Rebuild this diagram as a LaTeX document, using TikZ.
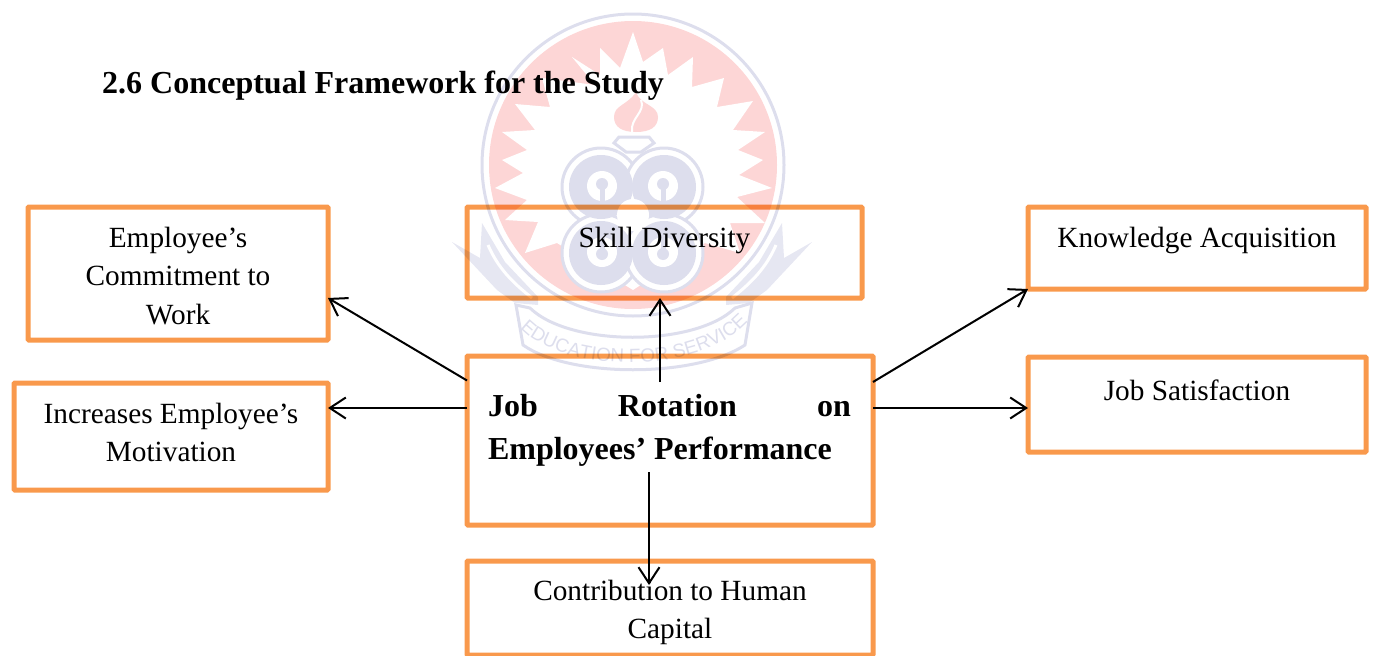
\documentclass[tikz,border=0pt]{standalone}
\usepackage{fontspec}
\setmainfont{Liberation Serif}
\newfontfamily\wmfont{Liberation Sans}
\usetikzlibrary{arrows.meta,decorations.text,calc}
\definecolor{boxorange}{HTML}{F9994C}
\definecolor{wmpink}{HTML}{FDD6D6}
\definecolor{wmblue}{HTML}{DDDEED}
\definecolor{wmpale}{HTML}{E6E7F2}
\newcommand{\boxtext}[4]{\parbox[c][#2pt][t]{#1pt}{\centering\vspace*{#3pt}\fontsize{29.3}{38.5}\selectfont #4\par}}
\tikzset{
  fwbox/.style={draw=boxorange,line width=5pt,rounded corners=1pt,inner sep=0pt,outer sep=0pt,blend mode=multiply,text=black},
  link/.style={draw=black,line width=2pt,-{Straight Barb[length=16pt,width=21pt,line width=2pt]}},
  wmline/.style={draw=wmblue,line width=3pt},
  wmfill/.style={fill=wmblue,draw=none}
}
\begin{document}
\begin{tikzpicture}[x=1pt,y=-1pt]
\useasboundingbox (0,0) rectangle (1374,656);
\clip (0,0) rectangle (1374,656);
% watermark: crest
\fill[wmpink] (633,165) circle[radius=144];
\fill[white] (633,32) -- (643,62) -- (663,48) -- (668,75) -- (693,57) -- (692,87) -- (724,78) -- (717,107) -- (753,101) -- (733,130) -- (765,132) -- (738,150) -- (763,160) -- (739,175) -- (772,188) -- (737,197) -- (765,223) -- (730,223) -- (740,253) -- (705,243) -- (633,290) -- (557,243) -- (525,253) -- (538,222) -- (505,220) -- (527,200) -- (495,188) -- (523,173) -- (502,160) -- (527,150) -- (502,132) -- (535,130) -- (515,104) -- (550,107) -- (542,78) -- (595,85) -- (572,57) -- (600,75) -- (600,48) -- (620,68) -- cycle;
\draw[wmline] (633,165) circle[radius=151];
% flame
\fill[wmpink] (636,92) .. controls (628,105) and (614,105) .. (614,117) .. controls (614,127) and (622,132) .. (636,132) .. controls (650,132) and (658,127) .. (658,117) .. controls (658,105) and (640,105) .. (636,92) -- cycle;
\draw[white,line width=2pt] (641,100) .. controls (646,112) and (630,118) .. (632,132);
% flask
\draw[wmline,fill=white] (614,143) -- (619,137) -- (649,137) -- (654,143) -- (641,152) -- (626,152) -- cycle;
\foreach \cx/\cy in {601/187,664/187,601/253,664/253}{
  \draw[wmline,fill=white] (\cx,\cy) circle[radius=39];
}
\foreach \cx/\cy in {601/187,664/187,601/253,664/253}{
  \fill[wmblue] (\cx,\cy) circle[radius=32];
}
\foreach \cx in {602,663}{
  \fill[white] (\cx,186) circle[radius=15];
  \fill[white] (\cx,252) circle[radius=15];
  \fill[wmblue] (\cx,184) circle[radius=6];
  \fill[wmblue] (\cx-2.5,184) rectangle (\cx+2.5,206);
  \fill[wmblue] (\cx,254) circle[radius=6];
  \fill[wmblue] (\cx-2.5,232) rectangle (\cx+2.5,254);
}
\fill[white] (633,215) circle[radius=16];
% ribbon
\fill[wmpale] (452,242) -- (480,258) -- (482,223) -- (505,262) -- (538,297) -- (538,305) -- (515,303) -- (497,290) -- cycle;
\fill[wmpale] (812,242) -- (784,258) -- (782,223) -- (759,262) -- (726,297) -- (726,305) -- (749,303) -- (767,290) -- cycle;
\draw[white,line width=3pt] (488,245) .. controls (498,268) and (512,282) .. (532,298);
\draw[white,line width=3pt] (776,245) .. controls (766,268) and (752,282) .. (732,298);
\draw[wmline,fill=white] (516,305) -- (523,345) .. controls (570,378) and (695,378) .. (745,345) -- (752,303) -- (735,308) .. controls (695,347) and (570,347) .. (530,308) -- cycle;
\path[decorate,decoration={text along path,text align=center,
  text={|\wmfont\fontsize{19}{19}\selectfont\color{wmblue}|EDUCATION FOR SERVICE}}]
  (520,328) .. controls (565,375) and (700,375) .. (748,322);
% title
\node[anchor=base west,inner sep=0pt,font=\fontsize{32}{38}\selectfont\bfseries] (title) at (102,93) {2.6 Conceptual Framework for the Study};
% boxes
\node[fwbox] (emp) at (178,273.5) {\boxtext{300}{133}{20}{Employee’s\\Commitment to\\Work}};
\node[fwbox] (inc) at (171,436.5) {\boxtext{314}{107}{20}{Increases Employee’s\\Motivation}};
\node[fwbox] (skill) at (664.5,252.5) {\boxtext{395}{91}{20}{Skill Diversity}};
\node[fwbox] (know) at (1197,248) {\boxtext{338}{82}{20}{Knowledge Acquisition}};
\node[fwbox] (sat) at (1197,404.5) {\boxtext{338}{95}{23}{Job Satisfaction}};
\node[fwbox] (job) at (670,440.5) {\parbox[c][169pt][t]{406pt}{\fontsize{32}{43}\selectfont\bfseries\vspace*{38pt}\hspace*{21pt}\hbox to 363pt{Job\hfill Rotation\hfill on}\par\hspace*{21pt}Employees’ Performance\par}};
\node[fwbox] (con) at (670,608) {\boxtext{406}{94}{19}{Contribution to Human\\Capital}};
% connectors
\draw[link] ([yshift=60pt]job.west) -- ([yshift=-24.5pt]emp.east);
\draw[link] ([yshift=32.5pt]job.west) -- ([yshift=28.5pt]inc.east);
\draw[link] ([xshift=-10pt,yshift=-26pt]job.north) -- ([xshift=-4.5pt]skill.south);
\draw[link] ([yshift=58.5pt]job.east) -- (know.south west);
\draw[link] ([yshift=32.5pt]job.east) -- ([yshift=-3.5pt]sat.west);
\draw[link] ([xshift=-21pt,yshift=53pt]job.south) -- ([xshift=-21pt,yshift=-24pt]con.north);
\end{tikzpicture}
\end{document}
